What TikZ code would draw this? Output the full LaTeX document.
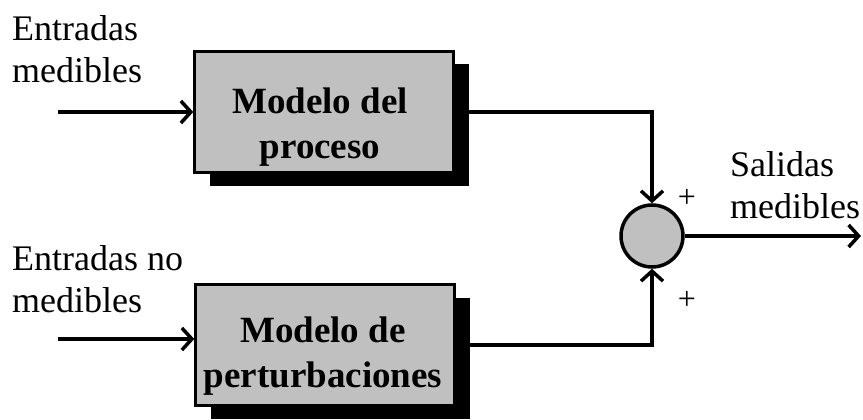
\documentclass[tikz,border=0pt]{standalone}
\usepackage{fontspec}
\setmainfont{Liberation Serif}
\usetikzlibrary{arrows.meta,shadows,positioning}
\definecolor{boxgray}{RGB}{192,192,192}
\begin{document}
\begin{tikzpicture}[x=1pt,y=-1pt,
  lbl/.style={inner sep=0pt,align=left,font=\fontsize{36}{42}\selectfont,anchor=base west},
  pm/.style={inner sep=0pt,font=\fontsize{32}{36}\selectfont},
  modelbox/.style={draw=black,line width=2.5pt,fill=boxgray,minimum width=259pt,minimum height=121pt,
    inner sep=0pt,
    drop shadow={shadow xshift=15pt,shadow yshift=-13pt,fill=black,opacity=1}},
  boxtext/.style={inner sep=0pt,align=center,anchor=base,font=\fontsize{37}{45}\selectfont\bfseries},
  sumnode/.style={circle,draw=black,line width=3.5pt,fill=boxgray,minimum size=62pt,inner sep=0pt},
  conn/.style={line width=3.5pt},
  arr/.style={conn,-{Straight Barb[length=10pt,width=22pt,line width=3.5pt]}}]
\useasboundingbox (0,0) rectangle (863,420);
\node[modelbox] (b1) at (324,112) {};
\node[modelbox] (b2) at (325,345) {};
\node[boxtext] (t1) at (320,158) {Modelo del\\proceso};
\node[boxtext] (t2) at (323,387) {Modelo de\\perturbaciones};
\node[sumnode] (sum) at (652,236) {};
\node[lbl] (l1) at (12,83) {Entradas\\medibles};
\node[lbl] (l2) at (12,312) {Entradas no\\medibles};
\node[lbl] (l3) at (730,218) {Salidas\\medibles};
\node[pm] (p1) at (687,198) {+};
\node[pm] (p2) at (687,300) {+};
\coordinate (in1) at (58,112);
\coordinate (in2) at (58,339);
\coordinate (out) at (861,236);
\draw[arr] (in1) -- (in1 -| b1.west);
\draw[arr] (in2) -- (in2 -| b2.west);
\draw[arr] (b1.east) -| (sum.north);
\draw[arr] (b2.east) -| (sum.south);
\draw[arr] (sum.east) -- (out);
\end{tikzpicture}
\end{document}
